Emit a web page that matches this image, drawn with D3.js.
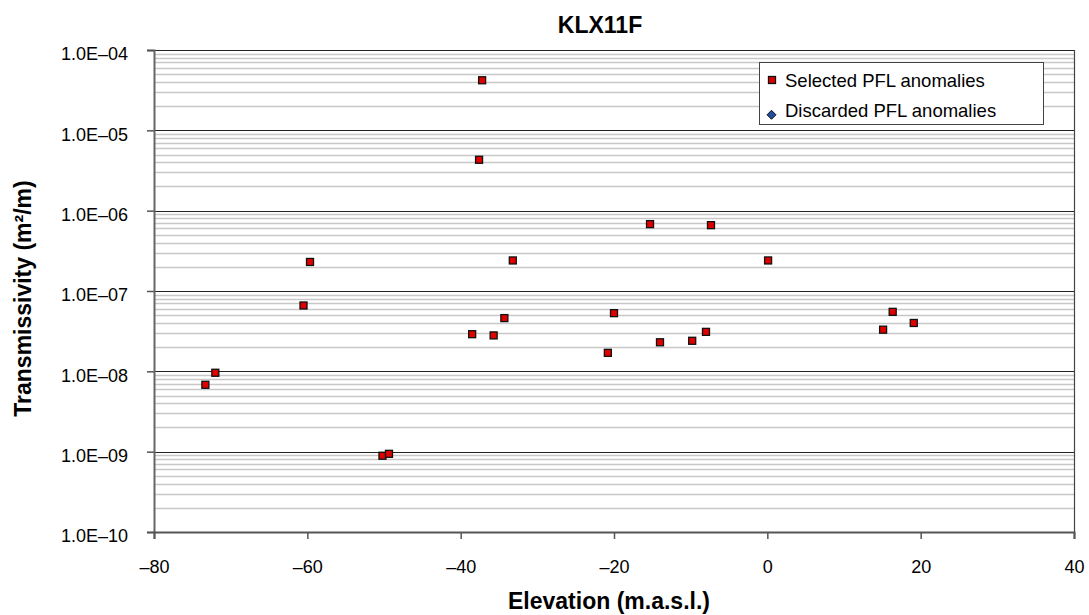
<!DOCTYPE html>
<html><head><meta charset="utf-8">
<script src="https://cdn.jsdelivr.net/npm/d3@7"></script>
<style>body{margin:0;background:#fff}svg{display:block}text{font-family:"Liberation Sans",Arial,sans-serif}</style>
</head><body>
<script>
const elevation = [-37.2,-37.6,-59.65,-60.5,-72.0,-73.3,-50.2,-49.35,-15.3,-7.35,-33.2,0.1,-34.3,-20.0,-38.5,-35.7,-20.8,-14.0,-9.8,-8.0,16.35,19.1,15.1];
const transmissivity = [4.2e-5,4.3e-6,2.3e-7,6.6e-8,9.6e-9,6.8e-9,8.9e-10,9.4e-10,6.8e-7,6.6e-7,2.4e-7,2.4e-7,4.6e-8,5.3e-8,2.9e-8,2.8e-8,1.7e-8,2.3e-8,2.4e-8,3.1e-8,5.5e-8,4.0e-8,3.3e-8];
const discardedElevation = [];
const discardedT = [];
const xTicks = [-80,-60,-40,-20,0,20,40];
const yTicks = [1e-10,1e-9,1e-8,1e-7,1e-6,1e-5,1e-4];
const yTickLabels = ["1.0E\u201310","1.0E\u201309","1.0E\u201308","1.0E\u201307","1.0E\u201306","1.0E\u201305","1.0E\u201304"];
const legendLabels = ["Selected PFL anomalies","Discarded PFL anomalies"];

const W=1089,H=615, L=154, R=1074, T=50, B=532;
const svg=d3.select("body").append("svg").attr("width",W).attr("height",H);
const x=d3.scaleLinear().domain([-80,40]).range([L,R]);
const y=d3.scaleLog().domain([1e-10,1e-4]).range([B,T]);

// minor grid
const minors=[];
for(let e=-10;e<-4;e++) for(let m=2;m<=9;m++) minors.push(m*Math.pow(10,e));
svg.append("g").selectAll("line").data(minors).join("line")
 .attr("x1",L).attr("x2",R).attr("y1",d=>Math.round(y(d))+0.5).attr("y2",d=>Math.round(y(d))+0.5)
 .attr("stroke","#c8c8c8").attr("stroke-width",1.3);
// major grid
svg.append("g").selectAll("line").data(yTicks.slice(1)).join("line")
 .attr("x1",L).attr("x2",R).attr("y1",d=>Math.round(y(d))+0.5).attr("y2",d=>Math.round(y(d))+0.5)
 .attr("stroke","#222").attr("stroke-width",1.2);
// right border
svg.append("line").attr("x1",R+0.5).attr("x2",R+0.5).attr("y1",T).attr("y2",B).attr("stroke","#444").attr("stroke-width",1.2);

// y axis
const yAxis=d3.axisLeft(y).tickValues(yTicks).tickFormat((d,i)=>yTickLabels[i]).tickSize(7).tickPadding(19);
const gy=svg.append("g").attr("transform",`translate(${L},0)`).call(yAxis);
gy.select(".domain").attr("stroke","#666").attr("stroke-width",2);
gy.selectAll(".tick line").attr("stroke","#555").attr("stroke-width",1.5);
gy.selectAll("text").attr("font-size",18).attr("dy","0.55em").attr("fill","#000");

// x axis
const xAxis=d3.axisBottom(x).tickValues(xTicks).tickFormat(d=>d<0?"\u2013"+Math.abs(d):String(d)).tickSize(7).tickPadding(21);
const gx=svg.append("g").attr("transform",`translate(0,${B})`).call(xAxis);
gx.select(".domain").attr("stroke","#555").attr("stroke-width",2);
gx.selectAll(".tick line").attr("stroke","#555").attr("stroke-width",1.5);
gx.selectAll("text").attr("font-size",18).attr("fill","#000");

// points
const pts=elevation.map((e,i)=>({x:e,y:transmissivity[i]}));
svg.append("g").selectAll("rect").data(pts).join("rect")
 .attr("x",d=>x(d.x)-3.5).attr("y",d=>y(d.y)-3.5).attr("width",7).attr("height",7)
 .attr("fill","#e00000").attr("stroke","#111").attr("stroke-width",1.3);
svg.append("g").selectAll("path").data(discardedElevation.map((e,i)=>({x:e,y:discardedT[i]}))).join("path")
 .attr("d",d=>`M${x(d.x)},${y(d.y)-4.5}l4.5,4.5l-4.5,4.5l-4.5,-4.5z`).attr("fill","#1f4e9a").attr("stroke","#111");

// legend
const lg=svg.append("g");
lg.append("rect").attr("x",759.5).attr("y",62.5).attr("width",284).attr("height",62).attr("fill","#fff").attr("stroke","#444").attr("stroke-width",1);
lg.append("rect").attr("x",768.5).attr("y",76.5).attr("width",7).attr("height",7).attr("fill","#e00000").attr("stroke","#111").attr("stroke-width",1.3);
lg.append("path").attr("d","M771.5,110.3l4.5,4.5l-4.5,4.5l-4.5,-4.5z").attr("fill","#1f4e9a").attr("stroke","#111").attr("stroke-width",1);
lg.selectAll("text").data(legendLabels).join("text")
 .attr("x",785).attr("y",(d,i)=>86.7+i*30.6).attr("font-size",18.5).attr("fill","#000").text(d=>d);

// titles
svg.append("text").attr("x",600).attr("y",32.5).attr("text-anchor","middle").attr("font-weight","bold").attr("font-size",23).text("KLX11F");
svg.append("text").attr("x",609).attr("y",609).attr("text-anchor","middle").attr("font-weight","bold").attr("font-size",23).text("Elevation (m.a.s.l.)");
svg.append("text").attr("transform","translate(30.5,298.5) rotate(-90)").attr("text-anchor","middle").attr("font-weight","bold").attr("font-size",23).text("Transmissivity (m²/m)");
</script>
</body></html>
